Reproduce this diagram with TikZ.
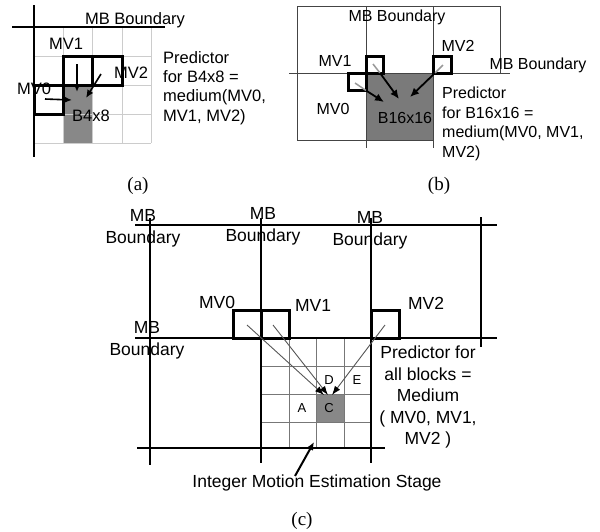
\documentclass[tikz,border=0pt]{standalone}
\usepackage{fontspec}
\setmainfont{Liberation Sans}
\newfontfamily\capfont{Liberation Serif}
\usetikzlibrary{arrows.meta}
\definecolor{fillA}{HTML}{888888}
\definecolor{fillB}{HTML}{7A7A7A}
\definecolor{gridA}{HTML}{CCCCCC}
\definecolor{gridC}{HTML}{777777}
\definecolor{lineB}{HTML}{444444}
\definecolor{strokeB}{HTML}{999999}
\definecolor{rayC}{HTML}{555555}
\begin{document}
\begin{tikzpicture}[x=1pt,y=-1pt,
  lblA/.style={inner sep=0pt, font=\fontsize{16.5}{19.3}\selectfont},
  lblB/.style={inner sep=0pt, font=\fontsize{16}{19.6}\selectfont},
  lblC/.style={inner sep=0pt, font=\fontsize{17.5}{21.5}\selectfont},
  mbC/.style={inner sep=0pt, align=center, anchor=north, font=\fontsize{17.5}{22.5}\selectfont},
  small/.style={inner sep=0pt, font=\fontsize{13}{15}\selectfont},
  capt/.style={inner sep=0pt, font=\capfont\fontsize{19}{22}\selectfont},
  mainA/.style={line width=1.5pt},
  mainB/.style={line width=1pt, color=lineB},
  mainC/.style={line width=2pt},
  boxthick/.style={line width=3pt, line join=miter},
  arrA/.style={line width=1.6pt, -{Latex[length=8pt,width=7pt]}},
  arrB/.style={line width=1.8pt, -{Latex[length=9pt,width=8pt]}},
  arrC/.style={line width=0.9pt, color=rayC, -{Latex[length=9pt,width=6.5pt,color=black]}},
  arrD/.style={line width=2pt, -{Latex[length=8pt,width=7pt]}}
]
\useasboundingbox (0,0) rectangle (600,531);

% ---------------- (a) ----------------
\fill[fillA] (63,85) rectangle (92,143);
\foreach \x in {63,92,122,151} \draw[gridA, line width=1pt] (\x,27) -- (\x,143);
\foreach \y in {56,85,114,143} \draw[gridA, line width=1pt] (34,\y) -- (151,\y);
\draw[mainA] (34,5) -- (34,157);
\draw[mainA] (12,27) -- (165,27);
\draw[boxthick] (63,56) rectangle (92,85);
\draw[boxthick] (92,56) rectangle (122,85);
\draw[boxthick] (34,85) rectangle (63,114);
\coordinate (a1s) at (77,64);  \coordinate (a1e) at (77,92);
\coordinate (a2s) at (101,74); \coordinate (a2e) at (86,98);
\coordinate (a0s) at (45,99);  \coordinate (a0e) at (72,100);
\draw[arrA] (a1s) -- (a1e);
\draw[arrA] (a2s) -- (a2e);
\draw[arrA] (a0s) -- (a0e);
\node[lblA, anchor=base] (amb) at (135,24) {MB Boundary};
\node[lblA, anchor=base] (amv1) at (66,49) {MV1};
\node[lblA, anchor=base] (amv2) at (131,78) {MV2};
\node[lblA, anchor=base] (amv0) at (34,94) {MV0};
\node[lblA, anchor=base] (ab) at (91,121) {B4x8};
\node[lblA, anchor=north west, align=left] (apred) at (163,51) {Predictor\\for B4x8 =\\medium(MV0,\\MV1, MV2)};
\node[capt] (capa) at (138,186) {(a)};

% ---------------- (b) ----------------
\fill[fillB] (366,73) rectangle (433,140);
\draw[mainB] (297,6) -- (500,6);
\draw[mainB] (297,6) -- (297,140) -- (433,140);
\draw[mainB] (500,6) -- (500,73);
\draw[mainB] (366,6) -- (366,148);
\draw[mainB] (433,6) -- (433,148);
\draw[mainB] (289,73) -- (510,73);
\draw[boxthick] (366,56) rectangle (383,73);
\draw[boxthick] (348,73) rectangle (366,90);
\draw[boxthick] (433,56) rectangle (451,73);
\draw[strokeB, line width=1.5pt] (373,64) -- (380,73);
\draw[strokeB, line width=1.5pt] (355,83) -- (366,90.5);
\draw[strokeB, line width=1.5pt] (443,65) -- (435,73);
\coordinate (b1s) at (380,73);   \coordinate (b1e) at (399,99);
\coordinate (b0s) at (366,90.5); \coordinate (b0e) at (384,102);
\coordinate (b2s) at (435,73);   \coordinate (b2e) at (410,97);
\draw[arrB] (b1s) -- (b1e);
\draw[arrB] (b0s) -- (b0e);
\draw[arrB] (b2s) -- (b2e);
\node[lblB, anchor=base] (bmb) at (397,21) {MB Boundary};
\node[lblB, anchor=base] (bmb2) at (538,69) {MB Boundary};
\node[lblB, anchor=base] (bmv1) at (335,66) {MV1};
\node[lblB, anchor=base] (bmv2) at (458,51) {MV2};
\node[lblB, anchor=base] (bmv0) at (333,114) {MV0};
\node[lblB, anchor=base] (bb) at (405,123) {B16x16};
\node[lblB, anchor=north west, align=left] (bpred) at (442,87) {Predictor\\for B16x16 =\\medium(MV0, MV1,\\MV2)};
\node[capt] (capb) at (439,186) {(b)};

% ---------------- (c) ----------------
\fill[fillA] (316,394) rectangle (344,422);
\foreach \x in {289,316,344} \draw[gridC, line width=1pt] (\x,338) -- (\x,448);
\foreach \y in {366,394,422} \draw[gridC, line width=1pt] (261,\y) -- (371,\y);
\draw[mainC] (135,225) -- (497,225);
\draw[mainC] (135,338) -- (497,338);
\draw[mainC] (137,448) -- (385,448);
\draw[mainC] (150,218) -- (150,465);
\draw[mainC] (261,218) -- (261,463);
\draw[mainC] (371,218) -- (371,463);
\draw[mainC] (481,217) -- (481,347);
\draw[boxthick] (233,310) rectangle (261,338);
\draw[boxthick] (261,310) rectangle (289,338);
\draw[boxthick] (371,310) rectangle (399,338);
\coordinate (c0s) at (247,325); \coordinate (c0e) at (324,395);
\coordinate (c1s) at (273,325); \coordinate (c1e) at (328,395);
\coordinate (c2s) at (385,325); \coordinate (c2e) at (332,395);
\draw[arrC] (c0s) -- (c0e);
\draw[arrC] (c1s) -- (c1e);
\draw[arrC] (c2s) -- (c2e);
\coordinate (ims) at (295,476); \coordinate (ime) at (314,442);
\draw[arrD] (ims) -- (ime);
\node[mbC] (cmb1) at (143,209) {MB\\Boundary};
\node[mbC] (cmb2) at (263,207) {MB\\Boundary};
\node[mbC] (cmb3) at (370,211) {MB\\Boundary};
\node[mbC] (cmb4) at (147,321) {MB\\Boundary};
\node[lblC, anchor=base] (cmv0) at (217,308) {MV0};
\node[lblC, anchor=base] (cmv1) at (313,311) {MV1};
\node[lblC, anchor=base] (cmv2) at (426,309) {MV2};
\node[small, anchor=base] (cD) at (329,384) {D};
\node[small, anchor=base] (cE) at (357,384) {E};
\node[small, anchor=base] (cA) at (302,412) {A};
\node[small, anchor=base] (cC) at (329,412) {C};
\node[lblC, anchor=north, align=center] (cpred) at (428,346) {Predictor for\\all blocks =\\Medium\\( MV0, MV1,\\MV2 )};
\node[lblC, anchor=base] (cime) at (317,487) {Integer Motion Estimation Stage};
\node[capt] (capc) at (302,521) {(c)};
\end{tikzpicture}
\end{document}
